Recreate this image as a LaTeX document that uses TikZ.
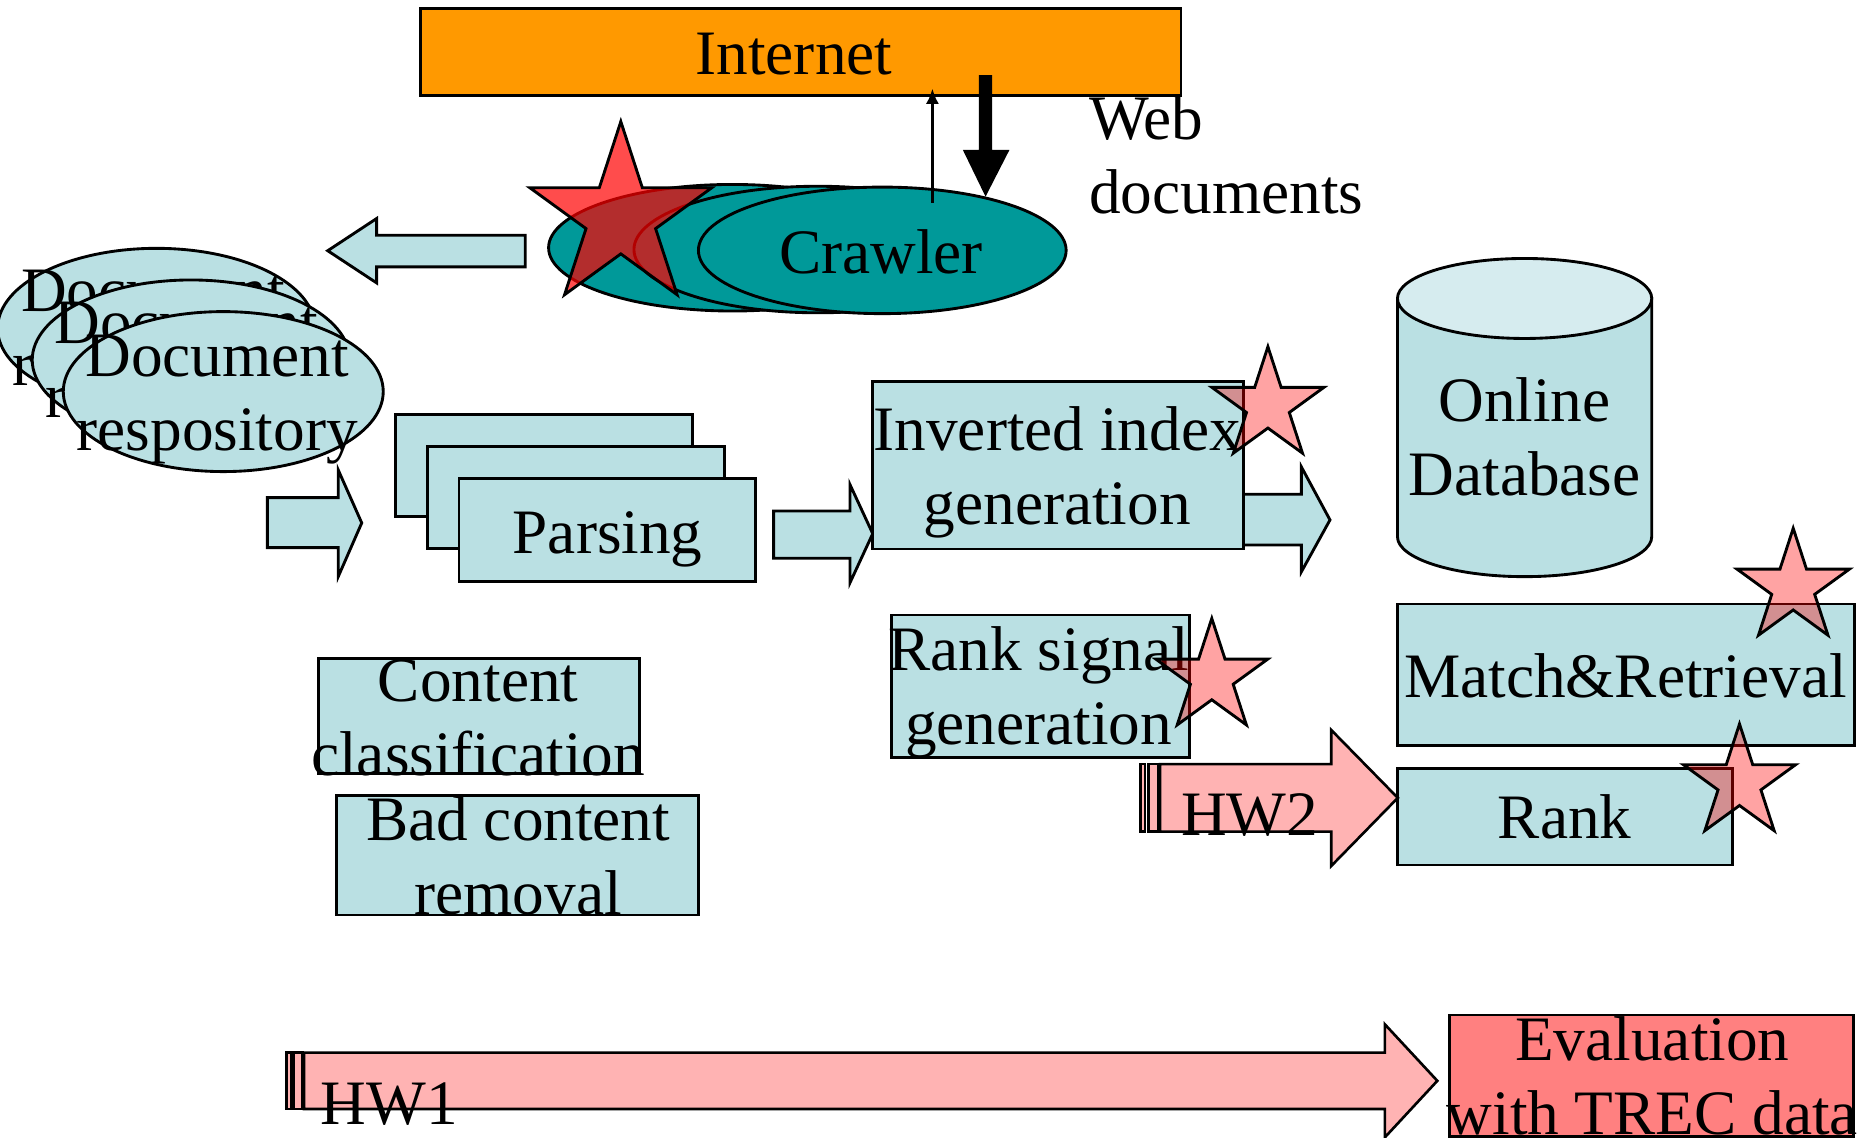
\documentclass[tikz,border=0pt]{standalone}
\usepackage{fontspec}
\setmainfont{Liberation Serif}
\usetikzlibrary{shapes.geometric,arrows.meta}

% line strut: fixes each line to 62pt with the baseline set low in it
\newcommand\tstrut{\rule[-12.6pt]{0pt}{62pt}}

\definecolor{lblue}{RGB}{186,224,227}
\definecolor{ltop}{RGB}{214,236,239}
\definecolor{crawlteal}{RGB}{0,153,153}
\definecolor{inetorange}{RGB}{255,153,0}
\definecolor{hwpink}{RGB}{255,179,179}
\definecolor{evalred}{RGB}{255,128,128}

\tikzset{
  fivestar/.pic={
    \path[pic actions] (-90:1) -- (-54:0.382) -- (-18:1) -- (18:0.382) -- (54:1)
      -- (90:0.382) -- (126:1) -- (162:0.382) -- (198:1) -- (234:0.382) -- cycle;
  }
}

\begin{document}
\begin{tikzpicture}[x=1pt,y=-1pt,
  box/.style={draw=black, line width=2.4pt, fill=lblue, rectangle, inner sep=0pt},
  oval/.style={draw=black, line width=2.4pt, ellipse, inner sep=0pt},
  txt/.style={font=\fontsize{53}{62}\selectfont, align=center, inner sep=0pt},
  bflow/.style={draw=black, line width=2.4pt, fill=lblue, line join=miter},
  hwarrow/.style={draw=black, line width=2.2pt, fill=hwpink, line join=miter},
  bigstar/.style={draw=black, line width=2.4pt, fill=red, fill opacity=0.7},
  hotstar/.style={draw=black, line width=2.4pt, fill=red, fill opacity=0.36}]

\useasboundingbox (0,0) rectangle (1568,953);

% ---- Internet and crawler ----
\node[box, fill=inetorange, minimum width=637pt, minimum height=73pt] (inet) at (670.7,43.7) {};
\node[txt] (inet-t) at (665,43.6) {\tstrut Internet};

\node[oval, fill=crawlteal, minimum width=308pt, minimum height=106pt] (cr1) at (613.5,207.5) {};
\node[oval, fill=crawlteal, minimum width=308pt, minimum height=106pt] (cr2) at (685,209) {};
\node[oval, fill=crawlteal, minimum width=308pt, minimum height=106pt] (cr3) at (739,209.7) {};
\node[txt] (cr-t) at (738,210.6) {\tstrut Crawler};
\pic[bigstar, scale=80.2] at (520,182) {fivestar};

\node[txt, align=left, anchor=west] (web-t) at (912,129.6) {\tstrut Web\\\tstrut documents};

\coordinate (up-s) at (781,170);
\coordinate (up-e) at (781,74);
\draw[line width=3pt, -{Latex[width=11pt,length=13pt]}] (up-s) -- (up-e);

\coordinate (dn-s) at (825.5,63);
\coordinate (dn-e) at (825.5,164.7);
\fill ([xshift=-5.5pt]dn-s) -- ++(11,0) -- ++(0,62.6) -- ++(14.5,0) -- (dn-e)
  -- ++(-19,-39.1) -- ++(13.5,0) -- cycle;

% ---- crawler to repository ----
\draw[bflow] (440,197) -- (315.5,197) -- (315.5,183) -- (274.5,210) -- (315.5,237)
  -- (315.5,223.5) -- (440,223.5) -- cycle;

\node[oval, fill=lblue, minimum width=266pt, minimum height=134pt] (doc1) at (131,275) {};
\node[txt] (doc1-t) at (128,273.6) {\tstrut Document\\\tstrut respository};
\node[oval, fill=lblue, minimum width=266pt, minimum height=134pt] (doc2) at (160,301.5) {};
\node[txt] (doc2-t) at (156,300.2) {\tstrut Document\\\tstrut respository};
\node[oval, fill=lblue, minimum width=268pt, minimum height=134pt] (doc3) at (187,328) {};
\node[txt] (doc3-t) at (182,328.1) {\tstrut Document\\\tstrut respository};

% ---- parsing ----
\draw[bflow] (224,416.8) -- (283.3,416.8) -- (283.3,393.6) -- (303,438) -- (283.3,483)
  -- (283.3,458.7) -- (224,458.7) -- cycle;

\node[box, minimum width=248.7pt, minimum height=85.7pt] (pa1) at (455.7,389.9) {};
\node[txt] (pa1-t) at (456,391) {\tstrut Parsing};
\node[box, minimum width=248.7pt, minimum height=85.7pt] (pa2) at (482.2,416.9) {};
\node[txt] (pa2-t) at (482.5,418) {\tstrut Parsing};
\node[box, minimum width=248.7pt, minimum height=85.7pt] (pa3) at (508.8,444) {};
\node[txt] (pa3-t) at (509,445) {\tstrut Parsing};

\draw[bflow] (648,428) -- (712,428) -- (712,406) -- (731,447) -- (712,488)
  -- (712,467.6) -- (648,467.6) -- cycle;
\draw[bflow] (1030,414) -- (1090,414) -- (1090,391) -- (1114,435.5) -- (1090,479)
  -- (1090,456.5) -- (1030,456.5) -- cycle;

% ---- index ----
\node[box, minimum width=310.7pt, minimum height=140.1pt] (inv) at (886,389.75) {};
\node[txt] (inv-t) at (885.5,389.6) {\tstrut Inverted index\\\tstrut generation};
\pic[hotstar, scale=49.3] at (1062,339.7) {fivestar};

% ---- online database ----
\coordinate (db) at (1277,349.7);
\draw[line width=2.4pt, fill=lblue] (1170.5,250) -- (1170.5,449.5)
  arc[start angle=180, end angle=0, x radius=106.5, y radius=33.5] -- (1383.5,250) -- cycle;
\draw[line width=2.4pt, fill=ltop] (1277,250) ellipse [x radius=106.5, y radius=33.5];
\node[txt] (db-t) at (1277,365.6) {\tstrut Online\\\tstrut Database};

% ---- retrieval and ranking ----
\node[box, minimum width=383.1pt, minimum height=118.4pt] (match) at (1362,565.1) {};
\node[txt] (match-t) at (1361.5,565.6) {\tstrut Match\&Retrieval};
\pic[hotstar, scale=49.5] at (1502,492) {fivestar};

\node[box, minimum width=280.9pt, minimum height=81pt] (rank) at (1310.9,684) {};
\node[txt] (rank-t) at (1310.6,683.6) {\tstrut Rank};
\pic[hotstar, scale=49.4] at (1457,655.8) {fivestar};

\node[box, minimum width=249.3pt, minimum height=119.5pt] (rsig) at (871.5,574.9) {};
\node[txt] (rsig-t) at (870,573.8) {\tstrut Rank signal\\\tstrut generation};
\pic[hotstar, scale=49.3] at (1015,567.3) {fivestar};

\draw[hwarrow] (955.2,640) rectangle (959.2,696.6);
\draw[hwarrow] (961.8,640) rectangle (970,696.6);
\draw[hwarrow] (971.6,640) -- (1115,640) -- (1115,611.4) -- (1170.8,668.3) -- (1115,725.4)
  -- (1115,696.6) -- (971.6,696.6) -- cycle;
\node[txt] (hw2) at (1046.7,681) {\tstrut HW2};

% ---- content filtering ----
\node[box, minimum width=269.4pt, minimum height=96.3pt] (cls) at (401.3,599.6) {};
\node[txt] (cls-t) at (400.5,600.3) {\tstrut Content\\\tstrut classification};
\node[box, minimum width=303pt, minimum height=100.4pt] (bad) at (433.5,716.2) {};
\node[txt] (bad-t) at (434,716.2) {\tstrut Bad content\\\tstrut removal};

% ---- evaluation ----
\draw[hwarrow] (240.1,881.7) rectangle (244.3,928.9);
\draw[hwarrow] (246.2,881.7) rectangle (253.5,928.9);
\draw[hwarrow] (254.6,881.7) -- (1160,881.7) -- (1160,858) -- (1203.9,905.3) -- (1160,952.6)
  -- (1160,928.9) -- (254.6,928.9) -- cycle;
\node[txt] (hw1) at (326,923.8) {\tstrut HW1};

\node[box, fill=evalred, minimum width=338.4pt, minimum height=101.8pt] (eval) at (1383.2,901.1) {};
\node[txt] (eval-t) at (1384,900.5) {\tstrut Evaluation\\\tstrut with TREC data};

\end{tikzpicture}
\end{document}
